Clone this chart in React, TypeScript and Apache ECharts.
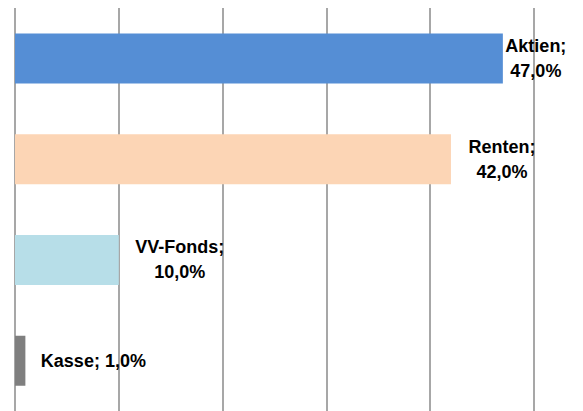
import React, { useEffect, useRef } from "react";
import * as echarts from "echarts";

const categories = ["Aktien", "Renten", "VV-Fonds", "Kasse"];
const values = [47.0, 42.0, 10.0, 1.0];
const barColors = ["#558ED5", "#FCD5B5", "#B7DEE8", "#7F7F7F"];
const twoLineLabels = [true, true, true, false];
// horizontal shift of each label's centre from its bar end (px)
const labelShift = [33, 51, 61, 68];

export default function App() {
  const ref = useRef<HTMLDivElement>(null);
  useEffect(() => {
    if (!ref.current) return;
    const chart = echarts.init(ref.current, undefined, { renderer: "svg" });
    const fmt = (v: number) => v.toFixed(1).replace(".", ",") + "%";
    chart.setOption({
      animation: false,
      backgroundColor: "#ffffff",
      grid: { left: 15, right: 49, top: 8, height: 405, containLabel: false },
      xAxis: {
        type: "value",
        min: 0,
        max: 50,
        interval: 10,
        axisLabel: { show: false },
        axisLine: { show: false },
        axisTick: { show: false },
        splitLine: { show: true, lineStyle: { color: "#8a8a8a", width: 1.5 } },
      },
      yAxis: {
        type: "category",
        data: categories,
        inverse: true,
        axisLabel: { show: false },
        axisLine: { show: false },
        axisTick: { show: false },
        splitLine: { show: false },
      },
      series: [
        {
          type: "bar",
          barWidth: 50,
          data: values.map((v, i) => ({
            value: v,
            itemStyle: { color: barColors[i] },
            label: {
              show: true,
              position: "right",
              distance: 0,
              align: "center",
              offset: [labelShift[i], 0],
              formatter: () =>
                categories[i] + ";" + (twoLineLabels[i] ? "\n" : " ") + fmt(v),
            },
          })),
          label: {
            show: true,
            color: "#000000",
            fontFamily: "Liberation Sans",
            fontWeight: "bold",
            fontSize: 18,
            lineHeight: 25,
          },
        },
      ],
    });
    return () => chart.dispose();
  }, []);
  return (
    <div
      ref={ref}
      style={{ position: "fixed", left: 0, top: 0, width: 583, height: 411 }}
    />
  );
}
